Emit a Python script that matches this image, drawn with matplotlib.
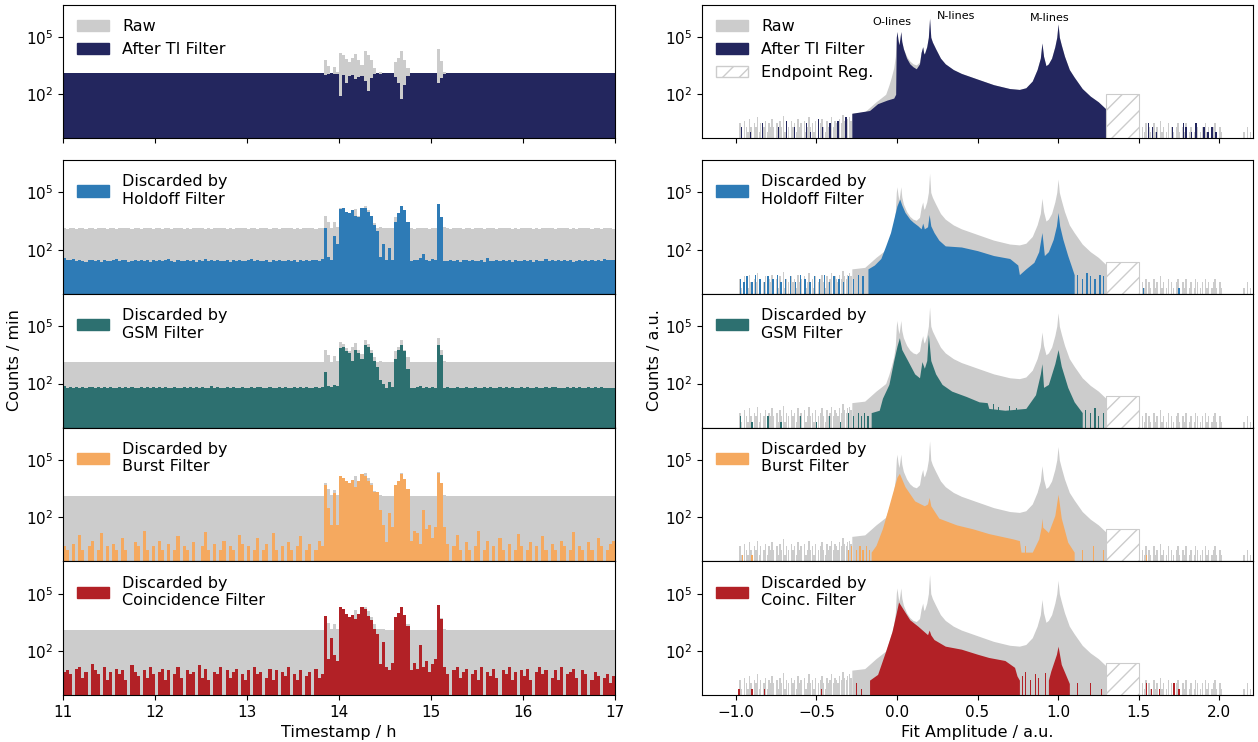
import numpy as np
import matplotlib
matplotlib.use("Agg")
import matplotlib.pyplot as plt
from matplotlib.patches import Patch
from matplotlib.ticker import NullLocator

plt.rcParams["font.size"] = 11

GREY = "#cccccc"
COLORS = ["#23265e", "#2e7bb6", "#2d7070", "#f5a95f", "#b22126"]
LEFT_LABELS = ["After TI Filter", "Discarded by\nHoldoff Filter", "Discarded by\nGSM Filter",
               "Discarded by\nBurst Filter", "Discarded by\nCoincidence Filter"]
RIGHT_LABELS = ["After TI Filter", "Discarded by\nHoldoff Filter", "Discarded by\nGSM Filter",
                "Discarded by\nBurst Filter", "Discarded by\nCoinc. Filter"]

# ---- left column: counts per minute in 2-minute bins, 11:00 -> 17:00 ----
raw_rate = [
    1300, 1290, 1310, 1305, 1295, 1300, 1310, 1290, 1300, 1305,
    1295, 1300, 1310, 1300, 1290, 1305, 1300, 1295, 1310, 1300,
    1300, 1305, 1290, 1300, 1310, 1295, 1300, 1305, 1300, 1290,
    1310, 1300, 1295, 1305, 1300, 1290, 1300, 1310, 1305, 1295,
    1300, 1290, 1305, 1300, 1310, 1300, 1295, 1305, 1290, 1300,
    1305, 1300, 1310, 1295, 1300, 1290, 1300, 1305, 1310, 1300,
    1295, 1300, 1305, 1290, 1300, 1310, 1300, 1295, 1305, 1300,
    1290, 1300, 1310, 1305, 1300, 1295, 1300, 1290, 1305, 1300,
    1310, 1300, 1295, 1300, 1305, 6000, 3000, 1400, 2700, 1500,
    15000, 12000, 7000, 5000, 8000, 14000, 6000, 3500, 20000, 12000,
    6000, 2500, 1400, 1500, 1350, 1300, 1310, 1300, 5000, 8000,
    20000, 6000, 2500, 1300, 1290, 1305, 1300, 1310, 1300, 1295,
    1300, 1305, 24000, 5400, 1500, 1300, 1290, 1305, 1300, 1310,
    1295, 1300, 1305, 1290, 1300, 1310, 1300, 1295, 1305, 1300,
    1300, 1290, 1305, 1300, 1310, 1300, 1295, 1305, 1290, 1300,
    1305, 1300, 1310, 1295, 1300, 1290, 1300, 1305, 1310, 1300,
    1290, 1300, 1310, 1305, 1300, 1295, 1300, 1290, 1305, 1300,
    1300, 1305, 1290, 1300, 1310, 1295, 1300, 1305, 1300, 1295,
]
ti_rate = [
    1300, 1290, 1310, 1305, 1295, 1300, 1310, 1290, 1300, 1305,
    1295, 1300, 1310, 1300, 1290, 1305, 1300, 1295, 1310, 1300,
    1300, 1305, 1290, 1300, 1310, 1295, 1300, 1305, 1300, 1290,
    1310, 1300, 1295, 1305, 1300, 1290, 1300, 1310, 1305, 1295,
    1300, 1290, 1305, 1300, 1310, 1300, 1295, 1305, 1290, 1300,
    1305, 1300, 1310, 1295, 1300, 1290, 1300, 1305, 1310, 1300,
    1295, 1300, 1305, 1290, 1300, 1310, 1300, 1295, 1305, 1300,
    1290, 1300, 1310, 1305, 1300, 1295, 1300, 1290, 1305, 1300,
    1310, 1300, 1295, 1300, 1305, 1000, 1200, 1250, 1100, 1200,
    80, 1000, 400, 900, 1000, 600, 800, 900, 500, 150,
    700, 1100, 1250, 1200, 1300, 1290, 1300, 1300, 800, 400,
    55, 300, 900, 1300, 1290, 1305, 1300, 1310, 1300, 1295,
    1300, 1305, 380, 700, 1200, 1300, 1290, 1305, 1300, 1310,
    1295, 1300, 1305, 1290, 1300, 1310, 1300, 1295, 1305, 1300,
    1300, 1290, 1305, 1300, 1310, 1300, 1295, 1305, 1290, 1300,
    1305, 1300, 1310, 1295, 1300, 1290, 1300, 1305, 1310, 1300,
    1290, 1300, 1310, 1305, 1300, 1295, 1300, 1290, 1305, 1300,
    1300, 1305, 1290, 1300, 1310, 1295, 1300, 1305, 1300, 1295,
]
holdoff_rate = [
    35, 30, 28, 32, 26, 30, 27, 24, 29, 31,
    26, 28, 24, 30, 27, 25, 29, 33, 26, 28,
    30, 24, 27, 29, 25, 31, 26, 28, 24, 30,
    27, 29, 25, 28, 32, 26, 24, 29, 27, 25,
    30, 26, 28, 24, 29, 27, 34, 25, 28, 26,
    29, 25, 27, 31, 24, 28, 26, 30, 27, 25,
    28, 32, 26, 29, 25, 27, 30, 24, 28, 26,
    31, 27, 25, 29, 26, 28, 24, 30, 27, 29,
    26, 28, 30, 25, 32, 1300, 40, 30, 550, 200,
    14000, 16000, 9000, 8000, 12000, 6000, 5000, 15000, 16000, 10000,
    6000, 2000, 1000, 40, 200, 28, 130, 30, 3000, 8000,
    20000, 12000, 3000, 25, 30, 28, 35, 60, 30, 25,
    32, 28, 26000, 5000, 25, 27, 30, 26, 29, 24,
    28, 31, 26, 29, 25, 27, 30, 24, 36, 27,
    25, 29, 27, 31, 26, 28, 24, 30, 27, 25,
    29, 26, 28, 24, 30, 27, 25, 33, 26, 28,
    27, 30, 25, 28, 26, 29, 24, 27, 31, 26,
    28, 25, 30, 27, 29, 26, 32, 28, 30, 29,
]
gsm_rate = [
    70, 62, 66, 58, 64, 60, 68, 57, 63, 65,
    59, 67, 61, 64, 56, 66, 62, 60, 69, 58,
    63, 60, 65, 57, 62, 68, 59, 64, 61, 66,
    58, 63, 60, 66, 62, 57, 65, 61, 59, 64,
    62, 67, 58, 63, 60, 65, 57, 62, 70, 60,
    64, 59, 62, 66, 58, 63, 61, 57, 65, 62,
    60, 65, 58, 63, 67, 59, 62, 64, 57, 61,
    66, 60, 63, 58, 62, 65, 59, 64, 61, 63,
    58, 62, 65, 60, 63, 400, 70, 65, 80, 75,
    7000, 8000, 5000, 4000, 1500, 6000, 4000, 2000, 10000, 8000,
    4000, 1500, 700, 150, 100, 60, 120, 65, 2000, 6000,
    10000, 5000, 600, 62, 58, 64, 75, 60, 66, 59,
    63, 61, 10000, 3000, 60, 64, 58, 62, 66, 60,
    59, 63, 61, 57, 65, 62, 60, 64, 58, 66,
    62, 58, 64, 60, 63, 57, 65, 61, 59, 63,
    60, 66, 58, 62, 64, 59, 61, 65, 57, 63,
    64, 60, 62, 58, 66, 61, 63, 59, 65, 60,
    62, 65, 59, 63, 60, 64, 58, 62, 61, 60,
]
burst_rate = [
    3, 2, 0, 4, 0, 12, 2, 0, 3, 6,
    0, 2, 15, 0, 3, 0, 4, 2, 0, 8,
    2, 0, 0, 5, 3, 0, 20, 2, 0, 3,
    0, 6, 2, 0, 4, 0, 2, 10, 0, 3,
    2, 0, 5, 0, 0, 3, 18, 2, 0, 4,
    0, 2, 6, 0, 3, 2, 0, 12, 4, 0,
    3, 0, 2, 8, 0, 2, 4, 0, 15, 2,
    0, 3, 0, 5, 2, 0, 3, 10, 0, 2,
    4, 0, 2, 6, 3, 5000, 300, 40, 1900, 40,
    15000, 12000, 8000, 6000, 9000, 4000, 8000, 18000, 15000, 8000,
    5000, 2000, 2000, 250, 40, 5, 170, 30, 5000, 8000,
    18000, 10000, 3000, 6, 20, 15, 4, 250, 25, 40,
    8, 30, 20000, 6000, 30, 4, 0, 3, 12, 2,
    0, 5, 2, 0, 3, 20, 0, 2, 6, 0,
    3, 0, 8, 2, 0, 4, 0, 2, 14, 3,
    0, 2, 5, 0, 3, 0, 10, 2, 0, 4,
    2, 0, 6, 3, 0, 2, 18, 0, 3, 2,
    0, 5, 2, 0, 8, 3, 0, 2, 4, 6,
]
coinc_rate = [
    8, 10, 6, 0, 12, 15, 4, 8, 0, 20,
    10, 6, 0, 14, 3, 8, 0, 12, 6, 10,
    3, 0, 18, 8, 5, 0, 10, 4, 14, 6,
    0, 8, 12, 3, 10, 0, 6, 15, 4, 0,
    10, 6, 8, 0, 18, 4, 12, 3, 0, 8,
    6, 14, 0, 10, 4, 8, 12, 0, 6, 3,
    10, 0, 15, 6, 8, 0, 4, 12, 3, 10,
    0, 8, 5, 14, 0, 6, 3, 10, 0, 5,
    8, 0, 12, 4, 6, 7000, 40, 500, 60, 30,
    20000, 15000, 9000, 6000, 8000, 5000, 9000, 20000, 15000, 7000,
    4000, 1500, 800, 20, 300, 15, 10, 25, 6000, 10000,
    20000, 8000, 2000, 10, 25, 12, 200, 15, 30, 8,
    20, 40, 25000, 5000, 15, 6, 0, 10, 14, 4,
    8, 12, 0, 6, 10, 3, 15, 0, 8, 5,
    12, 4, 0, 10, 6, 14, 3, 8, 0, 10,
    5, 12, 3, 0, 8, 15, 6, 10, 0, 4,
    10, 3, 14, 0, 6, 8, 12, 4, 0, 10,
    6, 0, 3, 8, 5, 0, 4, 6, 2, 5,
]
left_series = [ti_rate, holdoff_rate, gsm_rate, burst_rate, coinc_rate]

# ---- right column: amplitude spectra (knots of the histogram envelope) ----
raw_amp = [-0.28, -0.20, -0.17, -0.13, -0.10, -0.07, -0.05, -0.035, -0.02, -0.01,
           -0.004, 0.0, 0.006, 0.012, 0.018, 0.024, 0.03, 0.04, 0.06, 0.08,
           0.10, 0.12, 0.14, 0.15, 0.16, 0.165, 0.17, 0.185, 0.195, 0.2025,
           0.21, 0.22, 0.24, 0.27, 0.30, 0.35, 0.40, 0.50, 0.60, 0.70,
           0.76, 0.80, 0.84, 0.87, 0.89, 0.90, 0.91, 0.925, 0.94, 0.96,
           0.98, 0.992, 1.00, 1.008, 1.02, 1.04, 1.07, 1.10, 1.15, 1.20,
           1.25, 1.30]
raw_cnt = [10, 12, 20, 40, 63, 100, 300, 800, 2500, 1e4,
           1e5, 2e5, 8e4, 4e4, 8e4, 2e5, 6e4, 2.5e4, 1e4, 5.6e3,
           4e3, 3.5e3, 5e3, 1.6e4, 3.2e4, 1.6e4, 1.3e4, 3.2e4, 1e5, 1e6,
           1e5, 5.6e4, 2.5e4, 8e3, 4e3, 2e3, 1.25e3, 630, 320, 200,
           180, 220, 500, 2e3, 8e3, 5e4, 1e4, 3.2e3, 4e3, 8e3,
           3.2e4, 1e5, 5e5, 1e5, 4e4, 1e4, 2e3, 800, 200, 80,
           40, 16]
ti_amp = [-0.28, -0.17, -0.12, -0.06, -0.02, -0.008,
          -0.004, 0.0, 0.006, 0.012, 0.018, 0.024, 0.03, 0.04, 0.06, 0.08,
          0.10, 0.12, 0.14, 0.15, 0.16, 0.165, 0.17, 0.185, 0.195, 0.2025,
          0.21, 0.22, 0.24, 0.27, 0.30, 0.35, 0.40, 0.50, 0.60, 0.70,
          0.76, 0.80, 0.84, 0.87, 0.89, 0.90, 0.91, 0.925, 0.94, 0.96,
          0.98, 0.992, 1.00, 1.008, 1.02, 1.04, 1.07, 1.10, 1.15, 1.20,
          1.25, 1.30]
ti_cnt = [10, 14, 32, 50, 63, 100,
          1e5, 2e5, 8e4, 4e4, 8e4, 2e5, 6e4, 2.5e4, 8e3, 4e3,
          2.8e3, 2.2e3, 4e3, 1.6e4, 3.2e4, 1.6e4, 1.3e4, 3.2e4, 1e5, 1e6,
          1e5, 5.6e4, 2.5e4, 8e3, 4e3, 2e3, 1.25e3, 630, 320, 200,
          180, 220, 500, 2e3, 8e3, 5e4, 1e4, 3.2e3, 4e3, 8e3,
          3.2e4, 1e5, 5e5, 1e5, 4e4, 1e4, 2e3, 800, 200, 80,
          40, 16]
ho_amp = [-0.18, -0.14, -0.10, -0.07, -0.04, -0.02, 0.0, 0.017, 0.03, 0.05,
          0.08, 0.10, 0.13, 0.15, 0.16, 0.17, 0.19, 0.20, 0.21, 0.23,
          0.26, 0.30, 0.40, 0.50, 0.60, 0.70, 0.75, 0.76, 0.80, 0.85,
          0.88, 0.90, 0.915, 0.94, 0.97, 0.99, 1.00, 1.01, 1.03, 1.06,
          1.08, 1.10]
ho_cnt = [10, 16, 35, 160, 800, 4e3, 2e4, 4.5e4, 2.2e4, 9e3,
          4e3, 2.8e3, 1.8e3, 1.25e3, 2.5e3, 1.25e3, 1.6e3, 7e3, 1.8e3, 800,
          320, 160, 140, 90, 50, 35, 16, 5, 10, 22,
          80, 800, 50, 80, 350, 1.8e3, 9e3, 1.8e3, 350, 50,
          16, 5]
gsm_amp = [-0.16, -0.11, -0.09, -0.05, -0.02, 0.0, 0.015, 0.03, 0.07, 0.11,
           0.14, 0.155, 0.17, 0.185, 0.195, 0.21, 0.24, 0.28, 0.34, 0.43,
           0.51, 0.56, 0.57, 0.67, 0.80, 0.86, 0.89, 0.90, 0.91, 0.94,
           0.98, 1.00, 1.02, 1.06, 1.10, 1.15]
gsm_cnt = [3, 4, 17, 90, 1.6e3, 9e3, 2.5e4, 6e3, 1.4e3, 320,
           200, 1.4e3, 630, 1.6e3, 3.8e4, 1.6e3, 320, 90, 40, 21,
           11, 10, 5, 4, 5, 26, 320, 1.1e3, 63, 90,
           1.1e3, 6e3, 800, 63, 11, 3]
bu_amp = [-0.16, -0.13, -0.09, -0.06, -0.03, 0.0, 0.015, 0.05, 0.11, 0.17,
          0.19, 0.20, 0.21, 0.26, 0.37, 0.47, 0.57, 0.72, 0.76, 0.77,
          0.84, 0.88, 0.895, 0.90, 0.905, 0.94, 0.98, 1.00, 1.02, 1.06,
          1.10]
bu_cnt = [1.5, 3.4, 26, 200, 1.6e3, 1.25e4, 2e4, 4e3, 720, 400,
          500, 1.1e3, 400, 90, 40, 25, 14, 7.4, 6, 1.5,
          1.5, 7.4, 30, 90, 30, 16, 125, 1.6e3, 90, 5,
          1.5]
co_amp = [-0.17, -0.12, -0.07, -0.03, -0.007, 0.01, 0.03, 0.08, 0.13, 0.19,
          0.20, 0.21, 0.23, 0.30, 0.40, 0.50, 0.57, 0.67, 0.73, 0.745,
          0.76]
co_cnt = [3, 6, 100, 1.1e3, 8e3, 3.7e4, 2e4, 4.3e3, 2e3, 720,
          1.25e3, 700, 400, 180, 125, 68, 46, 32, 14, 5,
          3]
co_m_amp = [0.94, 0.955, 0.99, 1.0, 1.02, 1.07]
co_m_cnt = [3, 9, 68, 180, 20, 2]
right_series = [[(ti_amp, ti_cnt)], [(ho_amp, ho_cnt)], [(gsm_amp, gsm_cnt)],
                [(bu_amp, bu_cnt)], [(co_amp, co_cnt), (co_m_amp, co_m_cnt)]]

# sparse low-count bins outside the peak region (raw), 0.01 wide
raw_noise_left = [3, 1, 0, 4, 2, 1, 5, 2, 0, 3, 2, 6, 1, 3, 0, 2, 4, 1, 3, 2,
                  5, 2, 0, 3, 1, 4, 2, 7, 1, 3, 2, 0, 4, 2, 3, 1, 5, 2, 3, 0,
                  4, 1, 2, 6, 2, 3, 1, 4, 0, 2, 3, 5, 2, 1, 4, 2, 3, 6, 2, 4,
                  3, 2, 5, 3, 8, 4, 3, 5, 6, 4]
raw_noise_right = [2, 1, 3, 0, 2, 1, 0, 3, 1, 2, 0, 4, 1, 2, 0, 1, 3, 0, 2, 1,
                   0, 2, 3, 1, 0, 2, 1, 3, 0, 1, 2, 0, 1, 3, 2, 0, 1, 2, 0, 3,
                   1, 2, 0, 1, 2, 3, 1, 0, 2, 1]
raw_noise_far_pos = [2.155, 2.175, 2.195]
raw_noise_far_cnt = [1, 2, 1]

# sparse bins of the filtered spectra (position, count)
ti_noise_pos = [-0.963, -0.909, -0.835, -0.736, -0.686, -0.637, -0.563, -0.538, -0.489,
                -0.464, -0.415, -0.365, -0.316, 1.56, 1.585, 1.61, 1.71, 1.78, 1.795,
                1.83, 1.857, 1.906, 1.93, 1.956, 1.98]
ti_noise_cnt = [2, 1, 3, 2, 4, 2, 3, 1, 5, 2, 3, 4, 6, 3, 2, 1, 2, 3, 2, 1, 3, 2, 1, 2, 1]
ho_noise_pos = [-0.97, -0.95, -0.93, -0.90, -0.88, -0.85, -0.82, -0.80, -0.77, -0.74,
                -0.72, -0.69, -0.66, -0.63, -0.60, -0.57, -0.54, -0.51, -0.48, -0.45,
                -0.42, -0.39, -0.36, -0.33, -0.30, -0.27, -0.24, -0.21, 1.12, 1.15,
                1.18, 1.20, 1.23, 1.26, 1.28, 1.53, 1.75]
ho_noise_cnt = [3, 2, 4, 2, 5, 3, 2, 4, 3, 5, 2, 3, 4, 2, 5, 3, 2, 4, 3, 5,
                2, 4, 3, 2, 4, 3, 5, 4, 5, 3, 6, 4, 3, 5, 4, 1, 1]
gsm_noise_pos = [-0.97, -0.90, -0.80, -0.72, -0.60, -0.50, -0.42, -0.35, -0.30, -0.27,
                 -0.24, -0.22, -0.20, -0.18, 0.60, 0.63, 0.70, 0.74, 1.17, 1.20,
                 1.23, 1.25, 1.28]
gsm_noise_cnt = [2, 1, 2, 1, 2, 1, 2, 1, 3, 2, 3, 2, 3, 2, 8, 6, 7, 5, 4, 3, 5, 2, 3]
bu_noise_pos = [-0.96, -0.90, -0.30, -0.28, -0.25, -0.23, -0.21, -0.19, -0.17, 0.80,
                1.15, 1.22, 1.28, 1.55]
bu_noise_cnt = [1, 1, 2, 3, 2, 3, 2, 3, 2, 3, 2, 3, 2, 1]
co_noise_pos = [-0.98, -0.90, -0.82, -0.47, -0.25, -0.22, 0.78, 0.80, 0.83, 0.86,
                0.88, 0.92, 1.12, 1.20, 1.27, 1.55, 1.58, 1.63, 1.72, 1.75]
co_noise_cnt = [1, 1, 1, 1, 2, 1, 5, 8, 3, 6, 4, 7, 2, 2, 1, 2, 1, 1, 2, 1]
right_noise = [(ti_noise_pos, ti_noise_cnt), (ho_noise_pos, ho_noise_cnt),
               (gsm_noise_pos, gsm_noise_cnt), (bu_noise_pos, bu_noise_cnt),
               (co_noise_pos, co_noise_cnt)]

endpoint_height = [100, 23, 23, 23, 23]
line_labels = [("O-lines", -0.03, 3.3e5), ("N-lines", 0.37, 7e5), ("M-lines", 0.95, 5.5e5)]

# ---- figure ----
W, H = 1258, 742
fig = plt.figure(figsize=(W / 100, H / 100), dpi=100)

def panel_rect(col, row):
    x0, w = (63, 552) if col == 0 else (702, 551)
    if row == 0:
        top, h = 5, 133
    else:
        h = 133.75
        top = 160 + (row - 1) * h
    return [x0 / W, 1 - (top + h) / H, w / W, h / H]

t_edges = 11 + np.arange(len(raw_rate) + 1) / 30
nl_pos = -0.975 + 0.01 * np.arange(len(raw_noise_left))
nr_pos = 1.525 + 0.01 * np.arange(len(raw_noise_right))

for row in range(5):
    c = COLORS[row]
    # left: time series
    ax = fig.add_axes(panel_rect(0, row))
    ax.stairs(raw_rate, t_edges, baseline=0.01, fill=True, color=GREY, lw=0)
    ax.stairs(left_series[row], t_edges, baseline=0.01, fill=True, color=c, lw=0)
    ax.set_xlim(11, 17)
    handles = [Patch(color=c, label=LEFT_LABELS[row])]
    if row == 0:
        handles = [Patch(color=GREY, label="Raw")] + handles
    ax.legend(handles=handles, loc="upper left", frameon=False, fontsize=11.5)

    # right: amplitude spectra
    ax2 = fig.add_axes(panel_rect(1, row))
    ax2.fill_between(raw_amp, raw_cnt, 0.01, color=GREY, lw=0)
    ax2.bar(nl_pos, raw_noise_left, width=0.008, color=GREY, lw=0)
    ax2.bar(nr_pos, raw_noise_right, width=0.008, color=GREY, lw=0)
    ax2.bar(raw_noise_far_pos, raw_noise_far_cnt, width=0.008, color=GREY, lw=0)
    for amp, cnt in right_series[row]:
        ax2.fill_between(amp, cnt, 0.01, color=c, lw=0)
    npos, ncnt = right_noise[row]
    ax2.bar(npos, ncnt, width=0.008, color=c, lw=0)
    ax2.bar(1.4, endpoint_height[row], width=0.2, bottom=0.01, facecolor="white",
            edgecolor=GREY, hatch="//", lw=0.8)
    ax2.set_xlim(-1.21, 2.21)
    handles = [Patch(color=c, label=RIGHT_LABELS[row])]
    if row == 0:
        handles = [Patch(color=GREY, label="Raw")] + handles + [
            Patch(facecolor="white", edgecolor=GREY, hatch="//", label="Endpoint Reg.")]
        for txt, xx, yy in line_labels:
            ax2.text(xx, yy, txt, fontsize=8, ha="center", va="bottom")
    ax2.legend(handles=handles, loc="upper left", frameon=False, fontsize=11.5)

    for a in (ax, ax2):
        a.set_yscale("log")
        a.set_ylim(0.5, 5e6)
        a.set_yticks([1e2, 1e5])
        a.yaxis.set_minor_locator(NullLocator())
        a.tick_params(labelsize=11)
        if row < 4:
            a.tick_params(labelbottom=False)
        if 1 <= row <= 3:
            a.tick_params(bottom=False)
    if row == 4:
        ax.set_xlabel("Timestamp / h", fontsize=11.5)
        ax2.set_xlabel("Fit Amplitude / a.u.", fontsize=11.5)
        ax.set_xticks([11, 12, 13, 14, 15, 16, 17])
        ax2.set_xticks([-1.0, -0.5, 0.0, 0.5, 1.0, 1.5, 2.0])

fig.text(15 / W, 1 - 360 / H, "Counts / min", rotation=90, ha="center", va="center", fontsize=11.5)
fig.text(655 / W, 1 - 360 / H, "Counts / a.u.", rotation=90, ha="center", va="center", fontsize=11.5)

fig.savefig("out.png", dpi=100)
